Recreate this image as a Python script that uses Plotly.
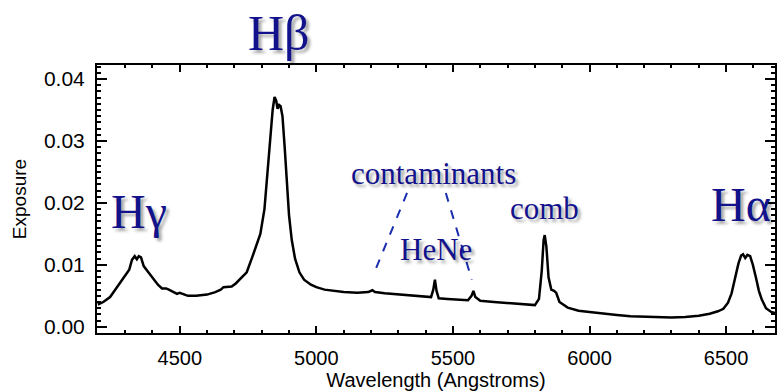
import plotly.graph_objects as go

# Spectrum: wavelength (Angstroms) and exposure
wavelength = [
    4200, 4220, 4245, 4265, 4281, 4300, 4315, 4325, 4335, 4343, 4350, 4358,
    4368, 4385, 4400, 4420, 4435, 4450, 4460, 4475, 4490, 4500, 4515, 4530,
    4560, 4600, 4630, 4650, 4660, 4690, 4705, 4720, 4745, 4765, 4780, 4795,
    4810, 4820, 4830, 4840, 4847, 4853, 4858, 4864, 4869, 4876, 4884, 4892,
    4900, 4910, 4922, 4938, 4955, 4980, 5000, 5030, 5060, 5100, 5150, 5190,
    5205, 5215, 5250, 5300, 5350, 5400, 5420, 5428, 5434, 5440, 5448, 5480,
    5520, 5555, 5568, 5575, 5582, 5600, 5650, 5700, 5760, 5800, 5815, 5825,
    5832, 5836, 5842, 5850, 5860, 5870, 5878, 5890, 5920, 5960, 6000, 6050,
    6100, 6150, 6200, 6250, 6300, 6350, 6400, 6440, 6470, 6490, 6507, 6520,
    6533, 6545, 6555, 6562, 6570, 6578, 6588, 6598, 6610, 6620, 6630, 6646,
    6665, 6680,
]
exposure = [
    0.0036, 0.0040, 0.0048, 0.0060, 0.0071, 0.0082, 0.0092, 0.0108, 0.0114, 0.0109, 0.0114, 0.0112,
    0.0098, 0.0088, 0.0080, 0.0068, 0.0062, 0.0062, 0.0060, 0.0056, 0.0053, 0.0055, 0.0052, 0.0050,
    0.0050, 0.0052, 0.0056, 0.0060, 0.0064, 0.0065, 0.0070, 0.0077, 0.0088, 0.0112, 0.0130, 0.0150,
    0.0190, 0.0240, 0.0300, 0.0350, 0.0371, 0.0365, 0.0352, 0.0358, 0.0356, 0.0340, 0.0290, 0.0230,
    0.0180, 0.0140, 0.0110, 0.0088, 0.0076, 0.0068, 0.0064, 0.0060, 0.0058, 0.0056, 0.0055, 0.0056,
    0.0059, 0.0056, 0.0054, 0.0052, 0.0050, 0.0048, 0.0048, 0.0060, 0.0076, 0.0058, 0.0046, 0.0045,
    0.0044, 0.0043, 0.0050, 0.0058, 0.0048, 0.0042, 0.0040, 0.0038, 0.0036, 0.0035, 0.0045, 0.0090,
    0.0140, 0.0148, 0.0130, 0.0080, 0.0060, 0.0058, 0.0055, 0.0040, 0.0031, 0.0026, 0.0024, 0.0021,
    0.0019, 0.0017, 0.0016, 0.0015, 0.0015, 0.0016, 0.0018, 0.0021, 0.0025, 0.0029, 0.0039, 0.0054,
    0.0078, 0.0102, 0.0115, 0.0117, 0.0111, 0.0116, 0.0114, 0.0100, 0.0078, 0.0058, 0.0045, 0.0030,
    0.0024, 0.0022,
]

# Feature labels in paper coordinates: (text, x, y, size, xanchor)
labels = [
    ("H\u03b2", 0.269, 1.119, 50, "center"),
    ("H\u03b3", 0.018, 0.452, 48, "left"),
    ("H\u03b1", 0.902, 0.478, 48, "left"),
    ("contaminants", 0.497, 0.597, 31, "center"),
    ("HeNe", 0.500, 0.310, 31, "center"),
    ("comb", 0.660, 0.463, 31, "center"),
]

# Dashed pointers from "contaminants" to the features (data coordinates)
pointers = [
    ((5332, 0.0216), (5219, 0.0095)),
    ((5474, 0.0216), (5569, 0.0076)),
]

navy = "#12128c"
shadow = "3px 3px 3px rgba(0,0,0,0.35)"

fig = go.Figure()
fig.add_trace(go.Scatter(
    x=wavelength, y=exposure, mode="lines",
    line=dict(color="black", width=2.5), showlegend=False,
))

for (x0, y0), (x1, y1) in pointers:
    fig.add_shape(type="line", x0=x0, y0=y0, x1=x1, y1=y1, xref="x", yref="y",
                  line=dict(color="#1a2eb0", width=2, dash="dash"))

for text, x, y, size, anchor in labels:
    fig.add_annotation(
        x=x, y=y, xref="paper", yref="paper", text=text, showarrow=False,
        xanchor=anchor, yanchor="middle",
        font=dict(family="Liberation Serif", size=size, color=navy, shadow=shadow),
    )

fig.update_xaxes(
    range=[4197, 6679], tick0=4500, dtick=500,
    showline=True, linecolor="black", linewidth=2, mirror="allticks",
    ticks="inside", ticklen=7, tickwidth=1.5, tickcolor="black",
    minor=dict(ticks="inside", dtick=100, tick0=4500, ticklen=3, tickwidth=1.5, tickcolor="black"),
    showgrid=False, zeroline=False, ticklabelstandoff=6,
    tickfont=dict(family="Liberation Sans", size=20, color="black"),
    title=dict(text="Wavelength (Angstroms)",
               font=dict(family="Liberation Sans", size=20, color="black"), standoff=4),
)
fig.update_yaxes(
    range=[-0.001, 0.04226], tick0=0, dtick=0.01, tickformat=".2f",
    showline=True, linecolor="black", linewidth=2, mirror="allticks",
    ticks="inside", ticklen=10, tickwidth=1.5, tickcolor="black",
    minor=dict(ticks="inside", dtick=0.001, ticklen=4, tickwidth=1.5, tickcolor="black"),
    showgrid=False, zeroline=False, ticklabelstandoff=6,
    tickfont=dict(family="Liberation Sans", size=21, color="black"),
    title=dict(text="Exposure",
               font=dict(family="Liberation Sans", size=19, color="black"), standoff=12),
)
fig.update_layout(
    width=779, height=391,
    margin=dict(l=97, r=2, t=65, b=58),
    paper_bgcolor="white", plot_bgcolor="white",
)

fig.write_html("out.html")
